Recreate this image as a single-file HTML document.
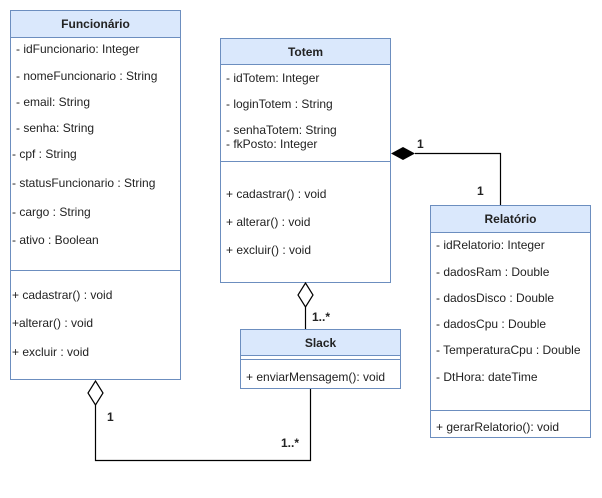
<!DOCTYPE html>
<html><head><meta charset="utf-8"><style>
html,body{margin:0;padding:0;background:#fff;width:602px;height:498px;overflow:hidden}
text{font-family:"Liberation Sans",Arial,sans-serif;font-size:12px;fill:#222}
.h{font-weight:bold;text-anchor:middle}
.b{font-weight:bold}
</style></head><body>
<svg width="602" height="498" viewBox="0 0 602 498" xmlns="http://www.w3.org/2000/svg">
<g stroke="#6c8ebf" stroke-width="1" fill="#fff">
<rect x="10.5" y="10.5" width="170" height="369"/>
<rect x="10.5" y="10.5" width="170" height="27" fill="#dae8fc"/>
<line x1="10.5" y1="270.5" x2="180.5" y2="270.5"/>
<rect x="220.5" y="38.5" width="170" height="244"/>
<rect x="220.5" y="38.5" width="170" height="26" fill="#dae8fc"/>
<line x1="220.5" y1="161.5" x2="390.5" y2="161.5"/>
<rect x="430.5" y="205.5" width="160" height="232"/>
<rect x="430.5" y="205.5" width="160" height="27" fill="#dae8fc"/>
<line x1="430.5" y1="410.5" x2="590.5" y2="410.5"/>
<rect x="240.5" y="329.5" width="160" height="59"/>
<rect x="240.5" y="329.5" width="160" height="26" fill="#dae8fc"/>
<line x1="240.5" y1="359.5" x2="400.5" y2="359.5"/>
</g>
<g stroke="#000" stroke-width="1.2" fill="none">
<polyline points="415,153.5 500.5,153.5 500.5,205"/>
<line x1="305.5" y1="307" x2="305.5" y2="329"/>
<polyline points="95.5,405 95.5,460.5 310.5,460.5 310.5,389"/>
</g>
<polygon points="391,153.5 403,147 415,153.5 403,160" fill="#000"/>
<polygon points="305.5,283 313,295 305.5,307 298,295" fill="#fff" stroke="#000" stroke-width="1.2"/>
<polygon points="95.5,381 103,393 95.5,405 88,393" fill="#fff" stroke="#000" stroke-width="1.2"/>

<text class="h" x="95.5" y="28">Funcionário</text>
<text x="16" y="53">- idFuncionario: Integer</text>
<text x="16" y="80">- nomeFuncionario : String</text>
<text x="16" y="106">- email: String</text>
<text x="16" y="132">- senha: String</text>
<text x="12" y="158">- cpf : String</text>
<text x="12" y="187">- statusFuncionario : String</text>
<text x="12" y="216">- cargo : String</text>
<text x="12" y="244">- ativo : Boolean</text>
<text x="12" y="299">+ cadastrar() : void</text>
<text x="12" y="327">+alterar() : void</text>
<text x="12" y="356">+ excluir : void</text>

<text class="h" x="305.5" y="56">Totem</text>
<text x="226" y="82">- idTotem: Integer</text>
<text x="226" y="108">- loginTotem : String</text>
<text x="226" y="134">- senhaTotem: String</text>
<text x="226" y="148">- fkPosto: Integer</text>
<text x="226" y="198">+ cadastrar() : void</text>
<text x="226" y="226">+ alterar() : void</text>
<text x="226" y="254">+ excluir() : void</text>

<text class="h" x="510.5" y="223">Relatório</text>
<text x="436" y="249">- idRelatorio: Integer</text>
<text x="436" y="276">- dadosRam : Double</text>
<text x="436" y="302">- dadosDisco : Double</text>
<text x="436" y="328">- dadosCpu : Double</text>
<text x="436" y="354">- TemperaturaCpu : Double</text>
<text x="436" y="381">-  DtHora: dateTime</text>
<text x="436" y="431">+ gerarRelatorio(): void</text>

<text class="h" x="320.5" y="347">Slack</text>
<text x="246" y="381">+ enviarMensagem(): void</text>

<text class="b" x="417" y="148">1</text>
<text class="b" x="477" y="195">1</text>
<text class="b" x="312" y="321">1..*</text>
<text class="b" x="107" y="421">1</text>
<text class="b" x="281" y="447">1..*</text>
</svg>
</body></html>
